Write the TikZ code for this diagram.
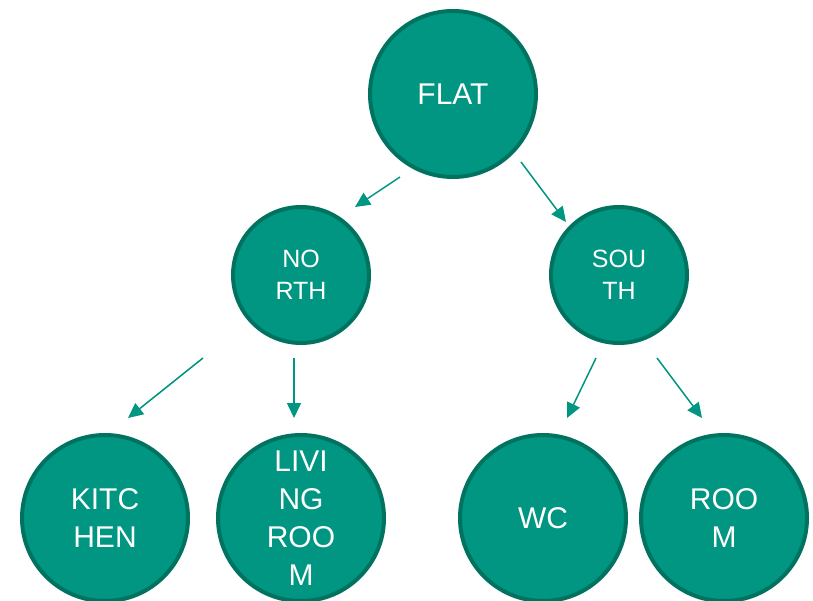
\documentclass[tikz,border=0pt]{standalone}
\usepackage{fontspec}
\setmainfont{Liberation Sans}
\usetikzlibrary{arrows.meta}
\definecolor{tealfill}{RGB}{0,150,130}
\definecolor{tealedge}{RGB}{0,114,96}
\tikzset{
  room/.style={circle, draw=tealedge, fill=tealfill, line width=4pt, inner sep=0pt,
    text=white, align=center},
  bigroom/.style={room, minimum size=166pt, font=\fontsize{30}{38}\selectfont},
  midroom/.style={room, minimum size=136pt, font=\fontsize{25}{32}\selectfont},
  link/.style={draw=tealfill, line width=1.5pt, -{Triangle[length=15pt,width=14pt]}}
}
\begin{document}
\begin{tikzpicture}[x=1pt,y=-1pt]
  \useasboundingbox (0,0) rectangle (813,601);
  % rooms
  \node[bigroom] (flat) at (453,94) {FLAT};
  \node[midroom] (north) at (301,275) {NO\\RTH};
  \node[midroom] (south) at (619,275) {SOU\\TH};
  \node[bigroom] (kitchen) at (105,518) {KITC\\HEN};
  \node[bigroom] (living) at (301,518) {LIVI\\NG\\ROO\\M};
  \node[bigroom] (wc) at (543,518) {WC};
  \node[bigroom] (room) at (724,518) {ROO\\M};
  % arrow end points
  \coordinate (fn1) at (400,177);   \coordinate (fn2) at (355,207);
  \coordinate (fs1) at (521,162);   \coordinate (fs2) at (566,222);
  \coordinate (nk1) at (203,358);   \coordinate (nk2) at (128,418);
  \coordinate (nl1) at (294,358);   \coordinate (nl2) at (294,418);
  \coordinate (sw1) at (596,358);   \coordinate (sw2) at (567,418);
  \coordinate (sr1) at (657,358);   \coordinate (sr2) at (702,418);
  % connectors
  \draw[link] (fn1) -- (fn2);
  \draw[link] (fs1) -- (fs2);
  \draw[link] (nk1) -- (nk2);
  \draw[link] (nl1) -- (nl2);
  \draw[link] (sw1) -- (sw2);
  \draw[link] (sr1) -- (sr2);
\end{tikzpicture}
\end{document}
